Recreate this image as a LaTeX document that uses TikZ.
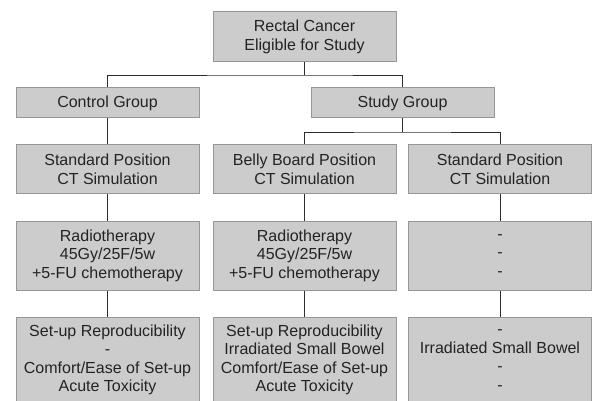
\documentclass[tikz,border=0pt]{standalone}
\usepackage{fontspec}
\setmainfont{Liberation Sans}
\usetikzlibrary{positioning}
\definecolor{boxfill}{RGB}{204, 204, 204}
\definecolor{boxline}{RGB}{150, 150, 150}
\definecolor{linkline}{RGB}{45, 45, 45}
\definecolor{boxtext}{RGB}{35, 35, 35}
\tikzset{every node/.append style={align=center}}

\begin{document}
\begin{tikzpicture}[x=1pt, y=-1pt,
    stagebox/.style={draw=boxline, line width=1pt, fill=boxfill, text=boxtext,
        minimum width=183pt, inner sep=0pt,
        font=\fontsize{16}{18.5}\selectfont},
    link/.style={draw=linkline, line width=0.9pt}]
    \useasboundingbox (0,0) rectangle (592,401);
    \clip (0,0) rectangle (592,401);

    % Top
    \node[stagebox, minimum height=50pt] (eligible) at (304.5, 37) {Rectal Cancer\\Eligible for Study};

    % Groups
    \node[stagebox, minimum height=30pt] (control) at (107.5, 103) {Control Group};
    \node[stagebox, minimum height=30pt] (study) at (402.5, 103) {Study Group};

    % CT simulation
    \node[stagebox, minimum height=49pt] (ctrlsim) at (107.5, 169.5) {Standard Position\\CT Simulation};
    \node[stagebox, minimum height=49pt] (bellysim) at (304.5, 169.5) {Belly Board Position\\CT Simulation};
    \node[stagebox, minimum height=49pt] (stdsim) at (500, 169.5) {Standard Position\\CT Simulation};

    % Treatment
    \node[stagebox, minimum height=69pt] (ctrlrt) at (107.5, 255.5) {Radiotherapy\\45Gy/25F/5w\\+5-FU chemotherapy};
    \node[stagebox, minimum height=69pt] (bellyrt) at (304.5, 255.5) {Radiotherapy\\45Gy/25F/5w\\+5-FU chemotherapy};
    \node[stagebox, minimum height=69pt] (stdrt) at (500, 255.5) {-\\-\\-};

    % Endpoints
    \node[stagebox, minimum height=86pt] (ctrlend) at (107.5, 360) {Set-up Reproducibility\\-\\Comfort/Ease of Set-up\\Acute Toxicity};
    \node[stagebox, minimum height=86pt] (bellyend) at (304.5, 360) {Set-up Reproducibility\\Irradiated Small Bowel\\Comfort/Ease of Set-up\\Acute Toxicity};
    \node[stagebox, minimum height=86pt] (stdend) at (500, 360) {-\\Irradiated Small Bowel\\-\\-};

    % Connectors
    \coordinate (split1) at (304.5, 75);
    \coordinate (split2) at (402.5, 132);
    \draw[link] (eligible.south) -- (split1);
    \draw[link] (control.north) |- (split1) -| (study.north);
    \draw[link] (study.south) -- (split2);
    \draw[link] (bellysim.north) |- (split2) -| (stdsim.north);
    \draw[link] (control.south) -- (ctrlsim.north);
    \foreach \col in {ctrl, belly, std} {
        \draw[link] (\col sim.south) -- (\col rt.north);
        \draw[link] (\col rt.south) -- (\col end.north);
    }
\end{tikzpicture}
\end{document}
